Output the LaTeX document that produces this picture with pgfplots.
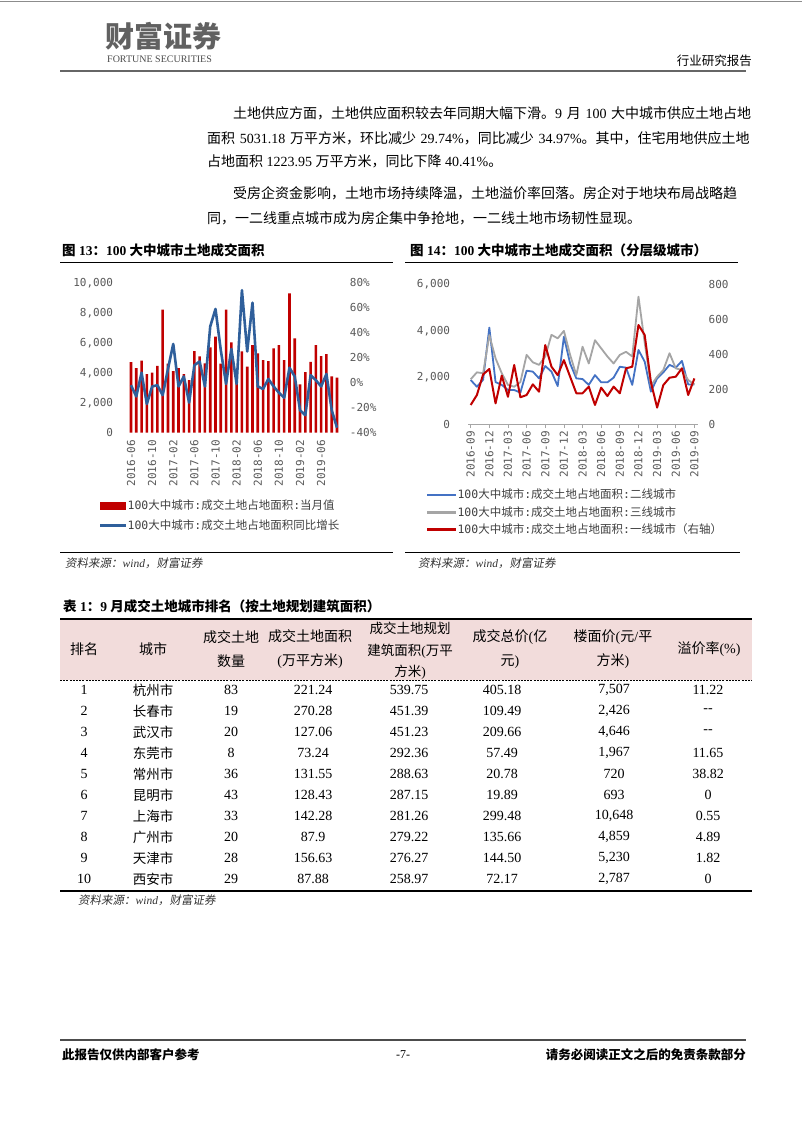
\documentclass[border=0pt]{standalone}
\usepackage{fontspec}
\usepackage{pgfplots}
\pgfplotsset{compat=1.18}
\setmainfont{Liberation Serif}
\newfontfamily\cjk{Noto Sans CJK SC}
\newfontfamily\cjkit[FakeSlant=0.18]{Noto Sans CJK SC}
\newfontfamily\monof{DejaVu Sans Mono}
\XeTeXlinebreaklocale "zh"
\XeTeXlinebreakskip=0pt plus 2pt minus 0.4pt
\definecolor{barred}{HTML}{C00000}
\definecolor{lineblue}{HTML}{2F5F9B}
\definecolor{btwo}{HTML}{4472C4}
\definecolor{gtwo}{HTML}{A5A5A5}
\definecolor{rtwo}{HTML}{C00000}
\definecolor{ticktxt}{HTML}{595959}
\definecolor{pinkbg}{HTML}{F2DCDB}
\newcommand\tickfont{\monof\fontsize{11}{12}\selectfont}
\newcommand\trow[9]{%
  \node at (84,#1) {#2};
  \node[font=\cjk\fontsize{13.5}{14}\selectfont] at (153,#1) {#3};
  \node at (231,#1) {#4};
  \node at (313,#1) {#5};
  \node at (409,#1) {#6};
  \node at (502,#1) {#7};
  \node at (614,#1) {#8};
  \node at (708,#1) {#9};}
\begin{document}
\begin{tikzpicture}
\path[use as bounding box] (0pt,0pt) rectangle (802pt,-1133pt);
\fill[white] (0pt,0pt) rectangle (802pt,-1133pt);
\begin{scope}[x=1pt,y=-1pt]
% page header
\draw[black!45, line width=1pt] (0,1.5) -- (802,1.5);
\node[anchor=west, inner sep=0pt, font=\cjk\bfseries\fontsize{29}{30}\selectfont, text=black!62] at (105,36) {财富证券};
\node[anchor=west, inner sep=0pt, font=\fontsize{10}{11}\selectfont, text=black!70] at (107,59) {FORTUNE SECURITIES};
\node[anchor=east, inner sep=0pt, font=\cjk\fontsize{12.5}{14}\selectfont] at (752,61) {行业研究报告};
\draw[black!60, line width=2.5pt] (60,71) -- (746,71);
% body text
\node[anchor=west, inner sep=0pt, text width=519pt, font=\fontsize{14}{16}\selectfont] at (233,113) {\parfillskip=0pt {\cjk 土地供应方面，土地供应面积较去年同期大幅下滑。}9 {\cjk 月} 100 {\cjk 大中城市供应土地占地}};
\node[anchor=west, inner sep=0pt, text width=545pt, font=\fontsize{14}{16}\selectfont] at (207,138) {\parfillskip=0pt {\cjk 面积} 5031.18 {\cjk 万平方米，环比减少} 29.74\%{\cjk ，同比减少} 34.97\%{\cjk 。其中，住宅用地供应土地}};
\node[anchor=west, inner sep=0pt, font=\fontsize{14}{16}\selectfont] at (207,161) {{\cjk 占地面积} 1223.95 {\cjk 万平方米，同比下降} 40.41\%{\cjk 。}};
\node[anchor=west, inner sep=0pt, text width=519pt, font=\fontsize{14}{16}\selectfont] at (233,193) {\parfillskip=0pt {\cjk 受房企资金影响，土地市场持续降温，土地溢价率回落。房企对于地块布局战略趋}};
\node[anchor=west, inner sep=0pt, font=\fontsize{14}{16}\selectfont] at (207,218) {{\cjk 同，一二线重点城市成为房企集中争抢地，一二线土地市场韧性显现。}};
% figure titles
\node[anchor=west, inner sep=0pt, font=\bfseries\fontsize{13.5}{14}\selectfont] at (62,250) {{\cjk 图} 13{\cjk ：}100 {\cjk 大中城市土地成交面积}};
\node[anchor=west, inner sep=0pt, font=\bfseries\fontsize{13.5}{14}\selectfont] at (410,250) {{\cjk 图} 14{\cjk ：}100 {\cjk 大中城市土地成交面积（分层级城市）}};
\draw[line width=1.5pt] (60,262.5) -- (393,262.5);
\draw[line width=1.5pt] (405,262.5) -- (738,262.5);
% sources
\draw[line width=1pt] (60,552) -- (393,552);
\draw[line width=1pt] (405,552) -- (740,552);
\node[anchor=west, inner sep=0pt, font=\fontsize{11.5}{12}\selectfont, text=black!80] at (65,563) {{\cjkit 资料来源：}\textit{wind}{\cjkit ，财富证券}};
\node[anchor=west, inner sep=0pt, font=\fontsize{11.5}{12}\selectfont, text=black!80] at (418,563) {{\cjkit 资料来源：}\textit{wind}{\cjkit ，财富证券}};
% table
\node[anchor=west, inner sep=0pt, font=\bfseries\fontsize{13.5}{14}\selectfont] at (63,606) {{\cjk 表} 1{\cjk ：}9 {\cjk 月成交土地城市排名（按土地规划建筑面积）}};
\fill[pinkbg] (60,619.5) rectangle (752,679.5);
\draw[line width=2pt] (60,618.5) -- (752,618.5);
\draw[line width=0.8pt, dash pattern=on 2pt off 1.2pt] (60,680.5) -- (752,680.5);
\draw[line width=2pt] (60,891) -- (752,891);
\begin{scope}[every node/.style={inner sep=0pt, font=\fontsize{14}{24}\selectfont, align=center}]
\node[font=\cjk\fontsize{14}{24}\selectfont] at (84,649) {排名};
\node[font=\cjk\fontsize{14}{24}\selectfont] at (153,649) {城市};
\node[font=\cjk\fontsize{14}{24}\selectfont] at (231,649) {成交土地\\数量};
\node at (310,649) {{\cjk 成交土地面积}\\({\cjk 万平方米})};
\node[font=\fontsize{13.5}{21.5}\selectfont] at (410,651) {{\cjk 成交土地规划}\\{\cjk 建筑面积}({\cjk 万平}\\{\cjk 方米})};
\node at (510,649) {{\cjk 成交总价}({\cjk 亿}\\{\cjk 元})};
\node at (613,649) {{\cjk 楼面价}({\cjk 元}/{\cjk 平}\\{\cjk 方米})};
\node at (709,649) {{\cjk 溢价率}(\%)};
\end{scope}
\begin{scope}[every node/.style={inner sep=0pt, font=\fontsize{14}{16}\selectfont}]
\trow{690}{1}{杭州市}{83}{221.24}{539.75}{405.18}{7,507}{11.22}
\trow{711}{2}{长春市}{19}{270.28}{451.39}{109.49}{2,426}{{-}{-}}
\trow{732}{3}{武汉市}{20}{127.06}{451.23}{209.66}{4,646}{{-}{-}}
\trow{753}{4}{东莞市}{8}{73.24}{292.36}{57.49}{1,967}{11.65}
\trow{774}{5}{常州市}{36}{131.55}{288.63}{20.78}{720}{38.82}
\trow{795}{6}{昆明市}{43}{128.43}{287.15}{19.89}{693}{0}
\trow{816}{7}{上海市}{33}{142.28}{281.26}{299.48}{10,648}{0.55}
\trow{837}{8}{广州市}{20}{87.9}{279.22}{135.66}{4,859}{4.89}
\trow{858}{9}{天津市}{28}{156.63}{276.27}{144.50}{5,230}{1.82}
\trow{879}{10}{西安市}{29}{87.88}{258.97}{72.17}{2,787}{0}
\end{scope}
\node[anchor=west, inner sep=0pt, font=\fontsize{11.5}{12}\selectfont, text=black!80] at (78,900) {{\cjkit 资料来源：}\textit{wind}{\cjkit ，财富证券}};
% footer
\draw[black!70, line width=2.5pt] (60,1040) -- (746,1040);
\node[anchor=west, inner sep=0pt, font=\cjk\bfseries\fontsize{12.5}{13}\selectfont] at (62,1055) {此报告仅供内部客户参考};
\node[inner sep=0pt, font=\fontsize{12}{13}\selectfont] at (403,1055) {-7-};
\node[anchor=east, inner sep=0pt, font=\cjk\bfseries\fontsize{12.5}{13}\selectfont] at (746,1055) {请务必阅读正文之后的免责条款部分};
\end{scope}

% ===== Chart 13 =====
\begin{axis}[
  at={(127.3pt,-432.7pt)}, anchor=south west, scale only axis,
  width=213.4pt, height=150pt,
  xmin=-0.7, xmax=39.7, ymin=0, ymax=10000, enlargelimits=false,
  scaled y ticks=false,
  axis line style={draw=none}, tick style={draw=none},
  xtick={0,4,...,36},
  xticklabels={2016-06,2016-10,2017-02,2017-06,2017-10,2018-02,2018-06,2018-10,2019-02,2019-06},
  xticklabel style={rotate=90, anchor=east, inner sep=0pt, font=\tickfont, text=ticktxt},
  xticklabel shift=7pt,
  ytick={0,2000,4000,6000,8000,10000},
  yticklabels={0,{2,000},{4,000},{6,000},{8,000},{10,000}},
  yticklabel style={inner sep=0pt, font=\tickfont, text=ticktxt},
  yticklabel shift=14pt,
  ytick pos=left, xtick pos=bottom, clip=false,
]
\addplot[ybar, bar width=2.6pt, fill=barred, draw=none] coordinates {
(0,4700)(1,4300)(2,4800)(3,3900)(4,4000)(5,4450)(6,8200)(7,4600)(8,4100)(9,4300)
(10,3900)(11,3500)(12,5440)(13,5090)(14,4620)(15,5690)(16,6400)(17,4600)(18,8200)(19,6020)
(20,4200)(21,5420)(22,4400)(23,5840)(24,5290)(25,4840)(26,4780)(27,5620)(28,5840)(29,4840)
(30,9290)(31,6290)(32,3220)(33,4040)(34,4730)(35,5840)(36,5110)(37,5240)(38,3760)(39,3670)};
\end{axis}
\begin{axis}[
  at={(127.3pt,-432.7pt)}, anchor=south west, scale only axis,
  width=213.4pt, height=150pt,
  xmin=-0.7, xmax=39.7, ymin=-40, ymax=80, enlargelimits=false,
  axis line style={draw=none}, tick style={draw=none},
  xtick=\empty,
  ytick={-40,-20,0,20,40,60,80},
  yticklabels={-40\%,-20\%,0\%,20\%,40\%,60\%,80\%},
  yticklabel style={inner sep=0pt, font=\tickfont, text=ticktxt},
  yticklabel shift=9pt,
  ytick pos=right, clip=false,
  legend style={at={(-0.128,-0.435)}, anchor=north west, draw=none, fill=none, inner sep=0pt,
    font=\cjk\fontsize{11.5}{13}\selectfont, text=black!75, row sep=4pt},
  legend cell align=left,
]
\addlegendimage{legend image code/.code={\fill[barred] (0pt,-3.5pt) rectangle (25pt,3.5pt);}}
\addlegendentry{{\monof 100}大中城市{\monof :}成交土地占地面积{\monof :}当月值}
\addlegendimage{legend image code/.code={\fill[lineblue] (0pt,-1pt) rectangle (25pt,1pt);}}
\addlegendentry{{\monof 100}大中城市{\monof :}成交土地占地面积同比增长}
\addplot[lineblue, line width=2.6pt, line join=round, forget plot] coordinates {
(0,-2)(1,-11)(2,8)(3,-17)(4,-3)(5,-2)(6,-10)(7,11)(8,31)(9,-3)
(10,5)(11,-16)(12,14)(13,17)(14,-3)(15,45)(16,59)(17,26)(18,-1)(19,27)
(20,-1)(21,74)(22,25)(23,64)(24,-3)(25,-5)(26,3)(27,-3)(28,-8)(29,-12)
(30,12)(31,5)(32,-22)(33,-26)(34,6)(35,2)(36,-3)(37,7)(38,-22)(39,-36)};
\end{axis}

% ===== Chart 14 =====
\begin{axis}[
  at={(468.2pt,-424pt)}, anchor=south west, scale only axis,
  width=229.3pt, height=139.7pt,
  xmin=-0.4, xmax=36.5, ymin=0, ymax=6000, enlargelimits=false,
  scaled y ticks=false,
  axis x line*=bottom, axis y line*=left,
  x axis line style={draw=black!35, line width=0.8pt},
  y axis line style={draw=none},
  xtick style={draw=black!35, line width=0.8pt}, ytick style={draw=none},
  tick align=outside, major tick length=4pt,
  xtick={0,3,...,36},
  xticklabels={2016-09,2016-12,2017-03,2017-06,2017-09,2017-12,2018-03,2018-06,2018-09,2018-12,2019-03,2019-06,2019-09},
  xticklabel style={rotate=90, anchor=east, inner sep=0pt, font=\tickfont, text=ticktxt},
  xticklabel shift=3pt,
  ytick={0,2000,4000,6000},
  yticklabels={0,{2,000},{4,000},{6,000}},
  yticklabel style={inner sep=0pt, font=\tickfont, text=ticktxt},
  yticklabel shift=14pt, clip=false,
]
\addplot[btwo, line width=1.8pt, line join=round] coordinates {
(0,1890)(1,1600)(2,1900)(3,4140)(4,1800)(5,1680)(6,1460)(7,1460)(8,1350)(9,2290)
(10,2250)(11,1960)(12,2490)(13,2250)(14,1630)(15,3750)(16,2600)(17,1960)(18,1930)(19,1680)
(20,2100)(21,1790)(22,1790)(23,1990)(24,2460)(25,2420)(26,1680)(27,3180)(28,2680)(29,1390)
(30,1960)(31,2220)(32,2540)(33,2420)(34,2710)(35,1700)(36,1700)};
\addplot[gtwo, line width=1.8pt, line join=round] coordinates {
(0,1920)(1,2220)(2,2180)(3,3820)(4,2820)(5,2180)(6,1680)(7,1600)(8,1800)(9,2970)
(10,2650)(11,2540)(12,2900)(13,3830)(14,3680)(15,4000)(16,2970)(17,2100)(18,3320)(19,2600)
(20,3600)(21,3250)(22,2900)(23,2600)(24,2970)(25,3100)(26,2900)(27,5470)(28,3500)(29,1650)
(30,2030)(31,2320)(32,3040)(33,2390)(34,2320)(35,1890)(36,1700)};
\end{axis}
\begin{axis}[
  at={(468.2pt,-424pt)}, anchor=south west, scale only axis,
  width=229.3pt, height=139.7pt,
  xmin=-0.4, xmax=36.5, ymin=0, ymax=800, enlargelimits=false,
  hide x axis, axis y line*=right,
  y axis line style={draw=none}, ytick style={draw=none},
  ytick={0,200,400,600,800},
  yticklabels={0,200,400,600,800},
  yticklabel style={inner sep=0pt, font=\tickfont, text=ticktxt},
  yticklabel shift=11pt, clip=false,
  legend style={at={(-0.18,-0.451)}, anchor=north west, draw=none, fill=none, inner sep=0pt,
    font=\cjk\fontsize{11.5}{13}\selectfont, text=black!75, row sep=2pt},
  legend cell align=left,
]
\addlegendimage{legend image code/.code={\fill[btwo] (0pt,-0.8pt) rectangle (28pt,0.8pt);}}
\addlegendentry{{\monof 100}大中城市{\monof :}成交土地占地面积{\monof :}二线城市}
\addlegendimage{legend image code/.code={\fill[gtwo] (0pt,-0.8pt) rectangle (28pt,0.8pt);}}
\addlegendentry{{\monof 100}大中城市{\monof :}成交土地占地面积{\monof :}三线城市}
\addlegendimage{legend image code/.code={\fill[rtwo] (0pt,-0.9pt) rectangle (28pt,0.9pt);}}
\addlegendentry{{\monof 100}大中城市{\monof :}成交土地占地面积{\monof :}一线城市（右轴）}
\addplot[rtwo, line width=2pt, line join=round, forget plot] coordinates {
(0,109)(1,166)(2,284)(3,315)(4,118)(5,277)(6,156)(7,338)(8,153)(9,166)
(10,227)(11,185)(12,452)(13,328)(14,280)(15,366)(16,271)(17,176)(18,176)(19,214)
(20,109)(21,208)(22,160)(23,214)(24,176)(25,319)(26,328)(27,567)(28,510)(29,240)
(30,94)(31,223)(32,265)(33,271)(34,319)(35,166)(36,261)};
\end{axis}
\end{tikzpicture}
\end{document}
